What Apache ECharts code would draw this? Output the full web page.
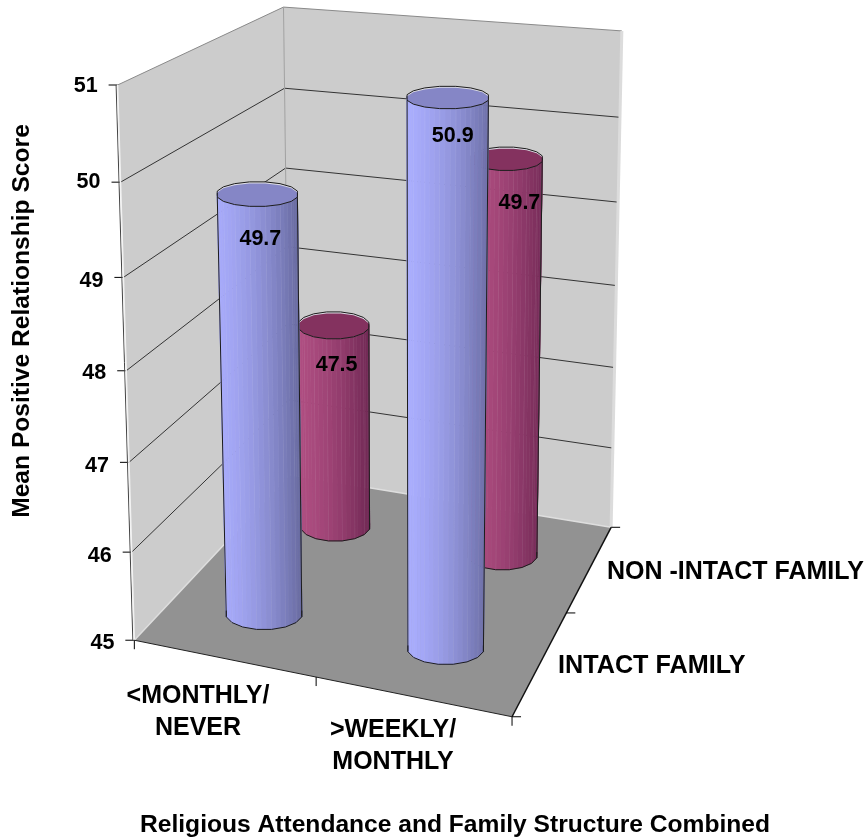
<!DOCTYPE html>
<html><head><meta charset="utf-8">
<style>html,body{margin:0;padding:0;background:#fff}#c{width:867px;height:840px}</style>
<script src="https://cdn.jsdelivr.net/npm/echarts@6/dist/echarts.min.js"></script>
</head><body><div id="c"></div>
<script>
const categories = ['<MONTHLY/\nNEVER', '>WEEKLY/\nMONTHLY'];
const seriesNames = ['INTACT FAMILY', 'NON -INTACT FAMILY'];
const intactValues = [49.7, 50.9];
const nonIntactValues = [47.5, 49.7];
const valueTicks = [45, 46, 47, 48, 49, 50, 51];
const yTitle = 'Mean Positive Relationship Score';
const xTitle = 'Religious Attendance and Family Structure Combined';

// camera calibration: box corners (u, w, v) -> screen
const boxCorners = [
  [0,0,0,134,640],[1,0,0,512,717],[0,1,0,290,475],[1,1,0,611,527],
  [0,0,1,118,85],[0,1,1,283,7],[1,1,1,622,31]
];
const tickLabelNudge = [2,3,3,1,3,-1,0];
function solveCamera(pts){
  const A=[],b=[];
  pts.forEach(([u,w,v,x,y])=>{
    A.push([u,w,v,1,0,0,0,0,-x*u,-x*w,-x*v]);b.push(x);
    A.push([0,0,0,0,u,w,v,1,-y*u,-y*w,-y*v]);b.push(y);
  });
  const n=11,M=[];
  for(let i=0;i<n;i++){M.push([]);for(let j=0;j<=n;j++){let s=0;
    for(let k=0;k<A.length;k++)s+=A[k][i]*(j<n?A[k][j]:b[k]);M[i].push(s);}}
  for(let i=0;i<n;i++){let p=i;for(let r=i+1;r<n;r++)if(Math.abs(M[r][i])>Math.abs(M[p][i]))p=r;
    [M[i],M[p]]=[M[p],M[i]];
    for(let r=0;r<n;r++){if(r===i)continue;const f=M[r][i]/M[i][i];for(let c=i;c<=n;c++)M[r][c]-=f*M[i][c];}}
  return M.map((r,i)=>r[n]/r[i]);
}
const P=solveCamera(boxCorners);
function proj(u,w,v){const d=P[8]*u+P[9]*w+P[10]*v+1;
  return [(P[0]*u+P[1]*w+P[2]*v+P[3])/d,(P[4]*u+P[5]*w+P[6]*v+P[7])/d];}

const FONT='"Liberation Sans",Arial,sans-serif';
function txt(x,y,s,align,rot,fs){fs=fs||21.5;return {type:'text',x,y,rotation:rot||0,silent:true,
  style:{text:s,x:0,y:0,fill:'#000',font:'bold '+fs+'px '+FONT,align:align||'center',verticalAlign:'middle',lineHeight:32}};}
function poly(pts,fill,stroke,lw){return {type:'polygon',shape:{points:pts},silent:true,
  style:{fill:fill||'none',stroke:stroke||'none',lineWidth:lw||1}};}
function line(a,b,c,lw){return {type:'line',shape:{x1:a[0],y1:a[1],x2:b[0],y2:b[1]},silent:true,style:{stroke:c,lineWidth:lw||1}};}
function lerpC(a,b,t){return 'rgb('+a.map((x,i)=>Math.round(x+(b[i]-x)*t)).join(',')+')';}

function normV(api,val){ // value -> 0..1 through the hidden value axis
  const y0=api.coord([0,valueTicks[0]])[1], y1=api.coord([0,valueTicks[valueTicks.length-1]])[1];
  return (api.coord([0,val])[1]-y0)/(y1-y0);
}

function renderFrame(params,api){
  const c=[];
  c.push(poly([proj(0,0,0),proj(0,1,0),proj(0,1,1),proj(0,0,1)],'#cccccc'));
  c.push(poly([proj(0,1,0),proj(1,1,0),proj(1,1,1),proj(0,1,1)],'#cccccc'));
  c.push(poly([proj(0,0,0),proj(1,0,0),proj(1,1,0),proj(0,1,0)],'#929292'));
  valueTicks.forEach((t,i)=>{const v=normV(api,t);
    if(v>0&&v<1){c.push(line(proj(0,0,v),proj(0,1,v),'#333',1));c.push(line(proj(0,1,v),proj(1,1,v),'#333',1));}
    const a=proj(0,0,v);
    c.push(line([a[0]-9,a[1]],a,'#000',1));
    c.push(txt(a[0]-20,a[1]+1+tickLabelNudge[i],String(t),'right'));
  });
  c.push(line(proj(0,0,1),proj(0,1,1),'#8a8a8a',1));
  c.push(line(proj(0,1,1),proj(1,1,1),'#8a8a8a',1));
  c.push(line(proj(0,1,0),proj(0,1,1),'#a0a0a0',1));
  c.push(line(proj(1,1,0),proj(1,1,1),'#dcdcdc',3));
  c.push(line(proj(0,0,0),proj(0,1,0),'#dedede',1.5));
  c.push(line(proj(0,1,0),proj(1,1,0),'#dedede',1.5));
  const fe0=proj(0,0,0),fe1=proj(0,0,1);
  c.push(line([fe0[0]-1.5,fe0[1]],[fe1[0]-1.5,fe1[1]],'#444',1));
  c.push(line(fe0,fe1,'#f2f2f2',1.5));
  c.push(line(proj(0,0,0),proj(1,0,0),'#222',1));
  c.push(line(proj(1,0,0),proj(1,1,0),'#111',1.5));
  [0,0.5,1].forEach(u=>{const a=proj(u,0,0);c.push(line(a,[a[0],a[1]+9],'#000',1));});
  [0,0.5,1].forEach(w=>{const a=proj(1,w,0);c.push(line(a,[a[0]+9,a[1]],'#000',1));});
  c.push(txt(198,712,categories[0],'center',0,25));
  c.push(txt(393,746,categories[1],'center',0,25));
  c.push(txt(558,666,seriesNames[0],'left',0,25.2));
  c.push(txt(607,572,seriesNames[1],'left',0,25));
  c.push(txt(22.5,321,yTitle,'center',Math.PI/2,24.6));
  c.push(txt(455,825,xTitle,'center',0,24.6));
  return {type:'group',children:c};
}

const SIDES=16,STRIPS=3;
const labelNudge={'0_0':[3,44],'0_1':[5,38],'1_0':[3,39],'1_1':[13,43.5]};
function makeCylinder(depth,uShift,sIdx,light,dark,topCol,a0,a1,b0,b1){
  return function(params,api){
    const cat=api.value(0),val=api.value(1);
    const v=normV(api,val);
    const u0=(cat+0.5)/categories.length+uShift,w0=depth;
    const ring=(th,vv)=>{const p=proj(u0,w0,vv);return [p[0]+(a0+a1*vv)*Math.cos(th),p[1]+(b0+b1*vv)*Math.sin(th)];};
    const c=[],top=[],bot=[];
    for(let i=0;i<SIDES;i++){const th=(i+0.5)/SIDES*2*Math.PI;top.push(ring(th,v));bot.push(ring(th,0));}
    const xs=top.concat(bot).map(p=>p[0]);
    const xa=Math.min(...xs),xb=Math.max(...xs);
    const vis=[];
    for(let i=0;i<SIDES;i++){const j=(i+1)%SIDES;
      if(Math.sin((i+1)/SIDES*2*Math.PI)<-0.01)continue;
      vis.push(i);
      for(let n=0;n<STRIPS;n++){
        const f0=n/STRIPS,f1=(n+1)/STRIPS;
        const mix=(a,b,f)=>[a[0]+(b[0]-a[0])*f,a[1]+(b[1]-a[1])*f];
        const pts=[mix(bot[i],bot[j],f0),mix(bot[i],bot[j],f1),mix(top[i],top[j],f1),mix(top[i],top[j],f0)];
        const t=((pts[0][0]+pts[1][0])/2-xa)/(xb-xa);
        const col=lerpC(light,dark,Math.min(1,Math.max(0,t*t*0.6+t*0.4)));
        c.push(poly(pts,col,col,0.6));
      }
      c.push(line(bot[j],top[j],'rgba(255,255,255,0.16)',1));
    }
    // rear rim sliver, then lid
    c.push(poly(top.map(p=>[p[0],p[1]-1.5]),'#dcdce4','#1c1c1c',1));
    c.push(poly(top,topCol,'none',1));
    vis.forEach(i=>{const j=(i+1)%SIDES;
      c.push(line(bot[i],bot[j],'#1c1c1c',1));
      c.push(line(top[i],top[j],'#1c1c1c',1));});
    // silhouette: the two extreme vertices
    let l=0,r=0;
    vis.forEach(i=>{if(bot[i][0]<=bot[l][0])l=i;
      const j=(i+1)%SIDES;if(bot[j][0]>=bot[r][0])r=j;});
    c.push(line(bot[l],top[l],'#1c1c1c',1));
    c.push(line(bot[r],top[r],'#1c1c1c',1));
    const tc=proj(u0,w0,v),nd=labelNudge[sIdx+'_'+cat];
    c.push(txt(tc[0]+nd[0],tc[1]+nd[1],String(val)));
    return {type:'group',children:c};
  };
}
const chart=echarts.init(document.getElementById('c'),null,{renderer:'canvas'});
chart.setOption({
  animation:false,
  backgroundColor:'#fff',
  grid:{left:0,right:0,top:0,bottom:0},
  xAxis:{type:'category',data:categories,show:false},
  yAxis:{type:'value',min:valueTicks[0],max:valueTicks[valueTicks.length-1],interval:1,show:false},
  series:[
    {type:'custom',name:'frame',coordinateSystem:'cartesian2d',data:[[0,45]],renderItem:renderFrame,silent:true,z:1},
    {type:'custom',name:seriesNames[1],coordinateSystem:'cartesian2d',data:nonIntactValues.map((y,i)=>[i,y]),
      renderItem:makeCylinder(0.74,0.004,1,[176,78,130],[112,40,84],'#84325f',35,2,15,-5),silent:true,z:2},
    {type:'custom',name:seriesNames[0],coordinateSystem:'cartesian2d',data:intactValues.map((y,i)=>[i,y]),
      renderItem:makeCylinder(0.23,0.008,0,[170,174,255],[104,106,160],'#8586c6',38.5,3,16,-5.5),silent:true,z:3}
  ]
});
</script></body></html>
